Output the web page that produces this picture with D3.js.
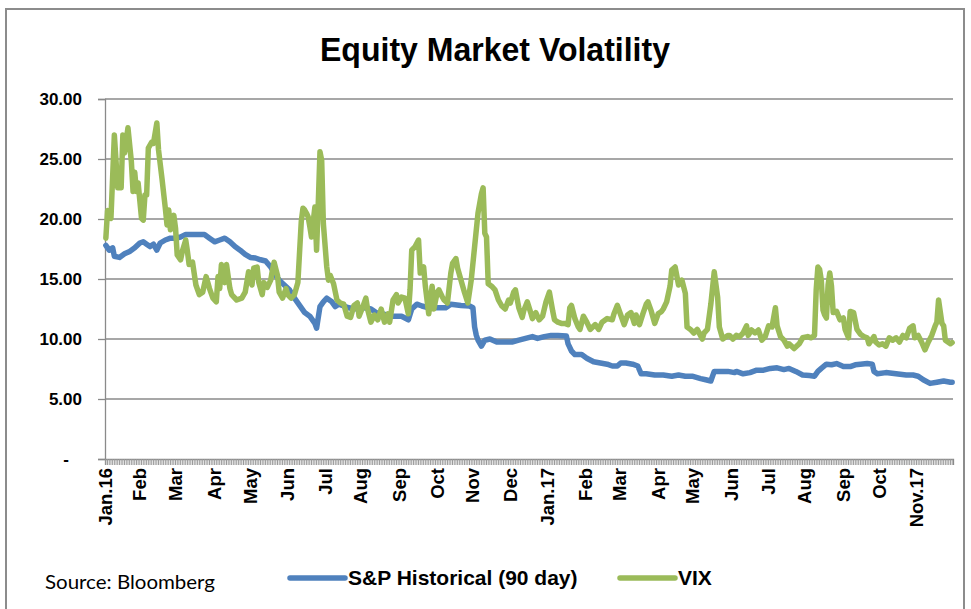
<!DOCTYPE html>
<html>
<head>
<meta charset="utf-8">
<script src="https://cdn.jsdelivr.net/npm/d3@7/dist/d3.min.js"></script>
<style>
  body { margin: 0; background: #fff; }
  svg { display: block; }
</style>
</head>
<body>
<script>
// series: [trading day, value]
let spHist = [
  ["2016-01-04",17.8],["2016-01-06",17.4],["2016-01-08",17.6],["2016-01-11",16.9],["2016-01-14",16.8],
  ["2016-01-19",17.1],["2016-01-22",17.3],["2016-01-27",17.6],["2016-02-01",18.0],["2016-02-03",18.1],
  ["2016-02-05",17.9],["2016-02-09",17.7],["2016-02-11",17.9],["2016-02-15",17.4],["2016-02-17",18.0],
  ["2016-02-22",18.25],["2016-02-25",18.4],["2016-03-01",18.4],["2016-03-04",18.5],["2016-03-09",18.7],
  ["2016-03-14",18.7],["2016-03-18",18.7],["2016-03-24",18.7],["2016-03-29",18.4],["2016-04-01",18.1],
  ["2016-04-06",18.25],["2016-04-11",18.4],["2016-04-14",18.1],["2016-04-19",17.7],["2016-04-22",17.4],
  ["2016-04-27",17.05],["2016-05-02",16.8],["2016-05-05",16.75],["2016-05-10",16.6],["2016-05-13",16.5],
  ["2016-05-18",16.0],["2016-05-20",15.5],["2016-05-25",14.9],["2016-05-30",14.5],["2016-06-02",14.1],
  ["2016-06-07",13.4],["2016-06-10",12.8],["2016-06-15",12.2],["2016-06-20",11.9],["2016-06-23",11.3],
  ["2016-06-24",10.9],["2016-06-28",12.7],["2016-06-30",13.1],["2016-07-04",13.4],["2016-07-07",13.1],
  ["2016-07-11",12.7],["2016-07-13",12.9],["2016-07-18",12.75],["2016-07-21",12.6],["2016-07-26",12.5],
  ["2016-07-29",12.6],["2016-08-03",12.6],["2016-08-09",12.5],["2016-08-12",12.2],["2016-08-18",12.1],
  ["2016-08-25",11.9],["2016-09-02",11.9],["2016-09-08",11.6],["2016-09-12",12.5],["2016-09-15",12.9],
  ["2016-09-20",12.75],["2016-09-26",12.6],["2016-09-30",12.6],["2016-10-10",12.6],["2016-10-13",12.9],
  ["2016-10-21",12.8],["2016-10-28",12.75],["2016-11-01",12.6],["2016-11-02",11.0],["2016-11-03",10.3],
  ["2016-11-04",9.9],["2016-11-08",9.4],["2016-11-10",9.9],["2016-11-15",10.0],["2016-11-21",9.75],
  ["2016-11-28",9.75],["2016-12-02",9.75],["2016-12-08",9.9],["2016-12-14",10.05],["2016-12-20",10.2],
  ["2016-12-23",10.05],["2016-12-29",10.2],["2017-01-04",10.3],["2017-01-10",10.3],["2017-01-17",10.25],
  ["2017-01-18",9.6],["2017-01-20",9.0],["2017-01-24",8.7],["2017-01-30",8.7],["2017-02-02",8.4],
  ["2017-02-08",8.1],["2017-02-14",8.0],["2017-02-20",7.9],["2017-02-23",7.75],["2017-02-28",7.75],
  ["2017-03-02",8.0],["2017-03-07",8.0],["2017-03-13",7.9],["2017-03-16",7.75],["2017-03-20",7.1],
  ["2017-03-23",7.1],["2017-03-30",7.0],["2017-04-06",7.0],["2017-04-13",6.9],["2017-04-19",7.0],
  ["2017-04-25",6.9],["2017-05-01",6.9],["2017-05-08",6.7],["2017-05-11",6.6],["2017-05-16",6.5],
  ["2017-05-18",7.3],["2017-05-23",7.3],["2017-05-30",7.3],["2017-06-05",7.2],["2017-06-06",7.3],
  ["2017-06-12",7.1],["2017-06-16",7.2],["2017-06-22",7.4],["2017-06-28",7.4],["2017-07-04",7.55],
  ["2017-07-10",7.6],["2017-07-14",7.45],["2017-07-19",7.55],["2017-07-25",7.3],["2017-07-31",7.0],
  ["2017-08-04",6.95],["2017-08-09",6.9],["2017-08-11",7.3],["2017-08-15",7.55],["2017-08-18",7.9],
  ["2017-08-23",7.85],["2017-08-28",7.95],["2017-09-01",7.7],["2017-09-07",7.7],["2017-09-12",7.85],
  ["2017-09-15",7.9],["2017-09-21",7.95],["2017-09-26",7.9],["2017-09-27",7.3],["2017-09-29",7.1],
  ["2017-10-06",7.2],["2017-10-16",7.1],["2017-10-24",7.0],["2017-10-30",7.0],["2017-11-02",6.9],
  ["2017-11-07",6.6],["2017-11-13",6.3],["2017-11-17",6.4],["2017-11-23",6.5],["2017-11-29",6.4],
  ["2017-11-30",6.4]
];

let vix = [
  ["2016-01-04",18.4],["2016-01-05",20.7],["2016-01-07",20.05],["2016-01-11",27.0],["2016-01-13",22.6],
  ["2016-01-14",23.7],["2016-01-15",22.6],["2016-01-18",27.0],["2016-01-19",25.5],["2016-01-21",27.6],
  ["2016-01-25",24.8],["2016-01-26",22.3],["2016-01-27",23.9],["2016-01-28",22.3],["2016-01-29",23.0],
  ["2016-02-02",20.05],["2016-02-03",19.9],["2016-02-04",22.0],["2016-02-05",22.0],["2016-02-08",25.9],
  ["2016-02-10",26.4],["2016-02-11",26.3],["2016-02-15",28.0],["2016-02-16",25.75],["2016-02-18",23.4],
  ["2016-02-22",20.9],["2016-02-23",19.5],["2016-02-24",20.75],["2016-02-25",19.1],["2016-02-29",20.3],
  ["2016-03-01",19.25],["2016-03-02",17.0],["2016-03-04",16.6],["2016-03-07",17.3],["2016-03-09",18.25],
  ["2016-03-10",17.3],["2016-03-11",16.2],["2016-03-15",16.4],["2016-03-17",14.5],["2016-03-21",13.7],
  ["2016-03-23",13.9],["2016-03-25",15.2],["2016-03-29",14.2],["2016-03-31",13.4],["2016-04-04",13.1],
  ["2016-04-05",15.2],["2016-04-06",14.2],["2016-04-07",16.2],["2016-04-11",14.7],["2016-04-12",16.2],
  ["2016-04-14",14.2],["2016-04-15",13.7],["2016-04-20",13.25],["2016-04-25",13.4],["2016-04-27",13.9],
  ["2016-04-29",15.6],["2016-05-03",14.5],["2016-05-04",15.9],["2016-05-06",16.0],["2016-05-09",14.7],
  ["2016-05-11",13.7],["2016-05-12",14.7],["2016-05-16",14.3],["2016-05-18",14.9],["2016-05-19",15.7],
  ["2016-05-20",16.4],["2016-05-24",15.3],["2016-05-25",13.9],["2016-05-27",13.4],["2016-05-31",14.2],
  ["2016-06-01",13.7],["2016-06-03",13.4],["2016-06-07",13.7],["2016-06-09",14.7],["2016-06-13",19.8],
  ["2016-06-14",20.9],["2016-06-15",20.75],["2016-06-16",20.5],["2016-06-17",20.2],["2016-06-20",19.4],
  ["2016-06-21",18.5],["2016-06-23",21.0],["2016-06-24",17.4],["2016-06-27",21.3],["2016-06-28",25.6],
  ["2016-06-29",24.9],["2016-06-30",19.6],["2016-07-04",16.0],["2016-07-05",14.9],["2016-07-06",15.3],
  ["2016-07-08",14.6],["2016-07-12",13.25],["2016-07-14",13.0],["2016-07-18",12.9],["2016-07-20",11.9],
  ["2016-07-22",11.8],["2016-07-26",12.8],["2016-07-28",13.0],["2016-07-29",11.9],["2016-08-02",12.6],
  ["2016-08-04",13.4],["2016-08-05",12.5],["2016-08-09",11.4],["2016-08-11",12.0],["2016-08-15",11.6],
  ["2016-08-17",12.5],["2016-08-19",11.4],["2016-08-23",12.1],["2016-08-24",11.4],["2016-08-26",13.25],
  ["2016-08-30",13.7],["2016-08-31",13.0],["2016-09-02",13.5],["2016-09-06",13.4],["2016-09-08",12.1],
  ["2016-09-09",14.1],["2016-09-12",17.4],["2016-09-14",17.7],["2016-09-16",18.25],["2016-09-19",15.5],
  ["2016-09-21",16.0],["2016-09-22",14.4],["2016-09-26",12.1],["2016-09-28",14.4],["2016-09-29",12.5],
  ["2016-10-03",13.9],["2016-10-04",14.1],["2016-10-06",13.5],["2016-10-07",13.25],["2016-10-11",13.0],
  ["2016-10-13",15.5],["2016-10-14",16.3],["2016-10-18",16.7],["2016-10-19",15.9],["2016-10-21",14.9],
  ["2016-10-25",13.9],["2016-10-27",13.0],["2016-10-31",14.9],["2016-11-02",17.7],["2016-11-04",20.5],
  ["2016-11-08",22.1],["2016-11-09",22.6],["2016-11-10",18.8],["2016-11-11",18.5],["2016-11-14",14.6],
  ["2016-11-16",14.4],["2016-11-18",14.1],["2016-11-22",13.25],["2016-11-24",12.75],["2016-11-28",12.5],
  ["2016-11-30",13.25],["2016-12-01",13.0],["2016-12-05",13.9],["2016-12-06",14.1],["2016-12-08",12.6],
  ["2016-12-12",11.8],["2016-12-13",12.4],["2016-12-15",13.1],["2016-12-19",12.2],["2016-12-20",11.7],
  ["2016-12-22",12.2],["2016-12-26",11.6],["2016-12-28",11.9],["2016-12-30",13.1],["2017-01-03",13.9],
  ["2017-01-05",12.3],["2017-01-06",11.6],["2017-01-10",11.4],["2017-01-12",11.3],["2017-01-16",11.3],
  ["2017-01-18",11.2],["2017-01-19",12.6],["2017-01-20",12.8],["2017-01-24",11.7],["2017-01-26",11.0],
  ["2017-01-27",10.8],["2017-01-31",11.9],["2017-02-02",11.4],["2017-02-06",10.8],["2017-02-09",11.2],
  ["2017-02-13",10.8],["2017-02-15",11.4],["2017-02-20",11.7],["2017-02-23",11.6],["2017-02-24",12.1],
  ["2017-02-28",12.8],["2017-03-02",12.0],["2017-03-06",11.2],["2017-03-08",12.0],["2017-03-10",12.2],
  ["2017-03-14",11.3],["2017-03-15",12.0],["2017-03-17",11.2],["2017-03-21",12.1],["2017-03-23",12.9],
  ["2017-03-24",13.1],["2017-03-28",12.3],["2017-03-30",11.3],["2017-04-03",12.1],["2017-04-05",12.3],
  ["2017-04-06",12.5],["2017-04-10",13.1],["2017-04-12",14.4],["2017-04-13",15.75],["2017-04-17",16.0],
  ["2017-04-19",14.5],["2017-04-21",14.9],["2017-04-25",13.8],["2017-04-26",11.0],["2017-04-28",10.8],
  ["2017-05-02",10.5],["2017-05-04",10.8],["2017-05-09",10.0],["2017-05-10",10.5],["2017-05-12",10.8],
  ["2017-05-16",12.9],["2017-05-18",15.6],["2017-05-22",13.5],["2017-05-23",11.0],["2017-05-25",10.0],
  ["2017-05-30",10.3],["2017-05-31",10.3],["2017-06-02",10.0],["2017-06-06",10.3],["2017-06-08",10.2],
  ["2017-06-12",10.5],["2017-06-14",11.1],["2017-06-15",10.3],["2017-06-19",10.75],["2017-06-21",10.5],
  ["2017-06-23",10.75],["2017-06-27",9.9],["2017-06-29",10.2],["2017-07-03",11.1],["2017-07-05",11.0],
  ["2017-07-07",12.6],["2017-07-10",11.1],["2017-07-12",10.2],["2017-07-14",9.9],["2017-07-18",9.4],
  ["2017-07-19",9.6],["2017-07-24",9.2],["2017-07-27",9.6],["2017-07-31",10.1],["2017-08-03",10.2],
  ["2017-08-07",10.1],["2017-08-09",10.3],["2017-08-10",14.1],["2017-08-11",16.0],["2017-08-14",15.8],
  ["2017-08-15",14.9],["2017-08-16",12.4],["2017-08-17",12.0],["2017-08-18",11.75],["2017-08-21",14.5],
  ["2017-08-22",15.5],["2017-08-23",14.4],["2017-08-24",12.2],["2017-08-28",12.3],["2017-08-30",11.6],
  ["2017-09-01",11.75],["2017-09-04",10.8],["2017-09-06",10.1],["2017-09-07",12.3],["2017-09-11",12.2],
  ["2017-09-13",10.8],["2017-09-15",10.4],["2017-09-19",10.2],["2017-09-21",10.1],["2017-09-22",9.6],
  ["2017-09-27",10.2],["2017-09-28",9.75],["2017-10-02",9.5],["2017-10-04",9.6],["2017-10-06",9.4],
  ["2017-10-10",10.1],["2017-10-12",9.9],["2017-10-16",10.1],["2017-10-18",9.75],["2017-10-20",10.3],
  ["2017-10-24",10.1],["2017-10-26",10.9],["2017-10-30",11.1],["2017-10-31",10.1],["2017-11-02",10.3],
  ["2017-11-06",9.75],["2017-11-08",9.1],["2017-11-10",9.75],["2017-11-14",10.3],["2017-11-16",11.1],
  ["2017-11-17",11.4],["2017-11-20",13.25],["2017-11-22",11.3],["2017-11-23",11.1],["2017-11-24",9.9],
  ["2017-11-29",9.6],["2017-11-30",9.7]
];

let monthLabels = ["Jan.16","Feb","Mar","Apr","May","Jun","Jul","Aug","Sep","Oct","Nov","Dec",
                   "Jan.17","Feb","Mar","Apr","May","Jun","Jul","Aug","Sep","Oct","Nov.17"];
let yTicks = [0, 5, 10, 15, 20, 25, 30];
let seriesNames = ["S&P Historical (90 day)", "VIX"];
let seriesColors = ["#4f81bd", "#9bbb59"];

let width = 971, height = 609;
let plotLeft = 105, plotRight = 953, plotTop = 99, plotBottom = 459;

let svg = d3.select("body").append("svg")
    .attr("width", width)
    .attr("height", height);

svg.append("rect")
    .attr("width", width).attr("height", height)
    .attr("fill", "#fff");

// chart frame
svg.append("rect")
    .attr("x", 6).attr("y", 9)
    .attr("width", 958).attr("height", 620)
    .attr("fill", "none")
    .attr("stroke", "#8c8c8c")
    .attr("stroke-width", 2);

svg.append("text")
    .attr("x", 495).attr("y", 61)
    .attr("text-anchor", "middle")
    .attr("font-family", "Liberation Sans, Arial, sans-serif")
    .attr("font-weight", "bold")
    .attr("font-size", 33)
    .attr("textLength", 350)
    .attr("lengthAdjust", "spacingAndGlyphs")
    .text("Equity Market Volatility");

let parse = d3.timeParse("%Y-%m-%d");

// category axis: one slot per weekday, as the source sheet did
let days = d3.timeDay.range(new Date(2016, 0, 4), new Date(2017, 11, 1))
    .filter(function(d) { return d.getDay() !== 0 && d.getDay() !== 6; });

let x = d3.scaleBand().domain(days).range([plotLeft, plotRight]);
let y = d3.scaleLinear().domain([0, 30]).range([plotBottom, plotTop]);

// first weekday of each month gets a label
let monthStarts = d3.timeMonth.range(new Date(2016, 0, 1), new Date(2017, 11, 1))
    .map(function(m) { return days.find(function(d) { return d >= m; }); });
let labelOf = new Map(monthStarts.map(function(d, i) { return [+d, monthLabels[i]]; }));

// gridlines
svg.append("g")
    .selectAll("line")
    .data(yTicks.filter(function(t) { return t > 0; }))
    .enter().append("line")
    .attr("x1", plotLeft).attr("x2", plotRight)
    .attr("y1", function(d) { return y(d); })
    .attr("y2", function(d) { return y(d); })
    .attr("stroke", "#8a8a8a")
    .attr("stroke-width", 1.3);

// y axis
let yAxis = svg.append("g")
    .attr("transform", "translate(" + plotLeft + ",0)")
    .call(d3.axisLeft(y).tickValues(yTicks).tickSizeOuter(0).tickSize(7).tickPadding(16)
        .tickFormat(function(d) { return d === 0 ? "-" : d3.format(".2f")(d); }));
yAxis.select(".domain").attr("stroke", "#8a8a8a").attr("stroke-width", 1.3);
yAxis.selectAll(".tick line").attr("stroke", "#8a8a8a").attr("stroke-width", 1.3);
yAxis.selectAll(".tick text")
    .attr("font-family", "Liberation Sans, Arial, sans-serif")
    .attr("font-weight", "bold")
    .attr("font-size", 17)
    .attr("fill", "#000")
    .filter(function(d) { return d === 0; })
    .attr("x", -36);

// x axis
let xAxis = svg.append("g")
    .attr("transform", "translate(0," + plotBottom + ")")
    .call(d3.axisBottom(x).tickValues(days).tickSizeOuter(0).tickSize(6)
        .tickFormat(function(d) { return labelOf.get(+d) || ""; }));
xAxis.select(".domain").attr("stroke", "#8a8a8a").attr("stroke-width", 1.3);
xAxis.selectAll(".tick line").attr("stroke", "#9a9a9a").attr("stroke-width", 1);
xAxis.selectAll(".tick text")
    .attr("font-family", "Liberation Sans, Arial, sans-serif")
    .attr("font-weight", "bold")
    .attr("font-size", 18.5)
    .attr("fill", "#000")
    .attr("text-anchor", "end")
    .attr("y", 0).attr("x", 0)
    .attr("dy", "0.35em")
    .attr("transform", "translate(0,9) rotate(-90)");

let line = d3.line()
    .x(function(d) { return x(parse(d[0])) + x.bandwidth() / 2; })
    .y(function(d) { return y(d[1]); });

svg.append("g")
    .selectAll("path")
    .data([spHist, vix])
    .enter().append("path")
    .attr("d", line)
    .attr("fill", "none")
    .attr("stroke", function(d, i) { return seriesColors[i]; })
    .attr("stroke-width", 5.5)
    .attr("stroke-linejoin", "round")
    .attr("stroke-linecap", "round");

// source note and legend
svg.append("text")
    .attr("x", 45).attr("y", 589)
    .attr("font-family", "Lato, Open Sans, sans-serif")
    .attr("font-size", 20)
    .attr("textLength", 170)
    .attr("lengthAdjust", "spacingAndGlyphs")
    .text("Source: Bloomberg");

let legendX = [290, 620];
let legend = svg.append("g")
    .selectAll("g")
    .data(seriesNames)
    .enter().append("g")
    .attr("transform", function(d, i) { return "translate(" + legendX[i] + ",578)"; });

legend.append("line")
    .attr("x1", 0).attr("x2", 55)
    .attr("stroke", function(d, i) { return seriesColors[i]; })
    .attr("stroke-width", 5.5)
    .attr("stroke-linecap", "round");

legend.append("text")
    .attr("x", 58).attr("dy", "0.35em")
    .attr("font-family", "Liberation Sans, Arial, sans-serif")
    .attr("font-weight", "bold")
    .attr("font-size", 21)
    .text(function(d) { return d; });
</script>
</body>
</html>
